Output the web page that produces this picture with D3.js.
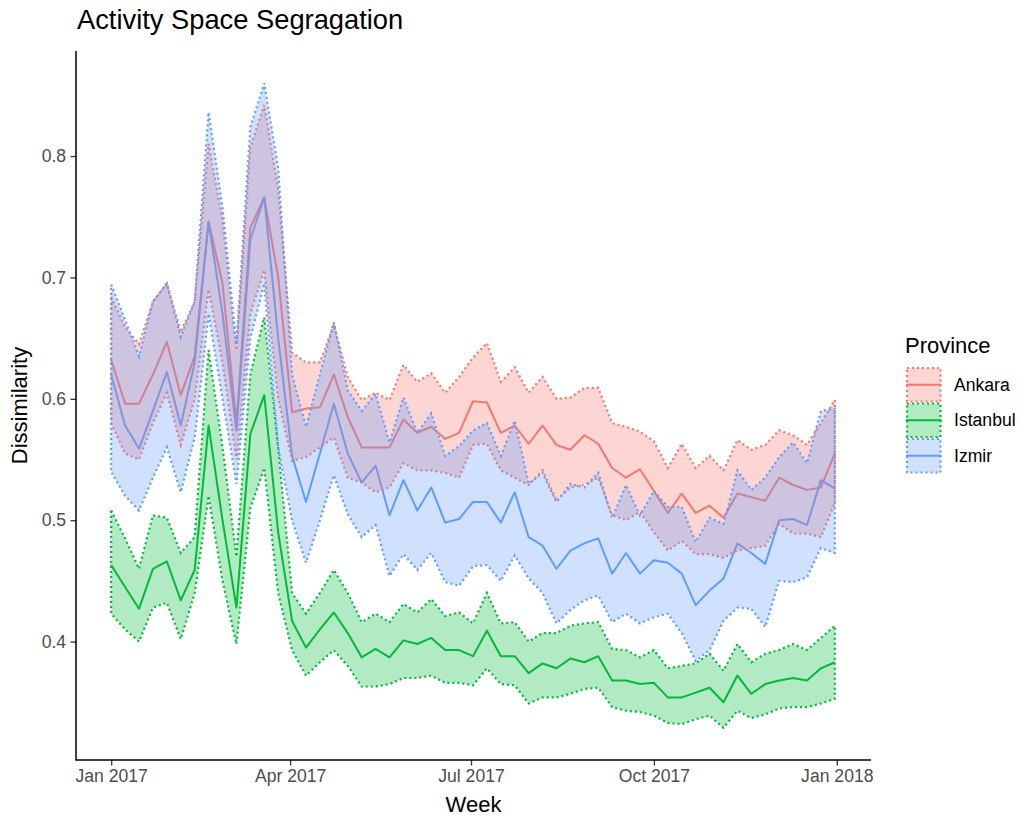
<!DOCTYPE html>
<html>
<head>
<meta charset="utf-8">
<script src="https://cdn.jsdelivr.net/npm/d3@7"></script>
<style>
  body { margin: 0; background: #fff; }
  svg { display: block; }
  text { font-family: "Liberation Sans", Arial, sans-serif; }
</style>
</head>
<body>
<svg id="chart" width="1020" height="820"></svg>
<script>
// categories / labels
const provinces = ["Ankara", "Istanbul", "Izmir"];
const colors = ["#F8766D", "#00BA38", "#619CFF"];
const yTicks = [0.4, 0.5, 0.6, 0.7, 0.8];
const xTickDates = [new Date(2017, 0, 1), new Date(2017, 3, 1), new Date(2017, 6, 1), new Date(2017, 9, 1), new Date(2018, 0, 1)];
const xTickLabels = ["Jan 2017", "Apr 2017", "Jul 2017", "Oct 2017", "Jan 2018"];

// weekly dates, Sundays of 2017
const weeks = d3.timeWeek.range(new Date(2017, 0, 1), new Date(2018, 0, 2));

// series values
const ankaraMean = [0.632,0.596,0.596,0.62,0.647,0.603,0.635,0.746,0.695,0.58,0.741,0.766,0.70,0.589,0.592,0.593,0.62,0.585,0.56,0.56,0.56,0.583,0.572,0.577,0.567,0.572,0.598,0.597,0.572,0.578,0.563,0.578,0.562,0.558,0.57,0.563,0.543,0.535,0.542,0.524,0.506,0.522,0.506,0.512,0.502,0.522,0.519,0.516,0.535,0.529,0.525,0.527,0.555];
const ankaraHigh = [0.684,0.659,0.645,0.68,0.695,0.655,0.68,0.81,0.747,0.64,0.807,0.842,0.772,0.638,0.63,0.63,0.661,0.618,0.599,0.605,0.599,0.628,0.614,0.621,0.605,0.618,0.634,0.646,0.614,0.626,0.605,0.618,0.6,0.601,0.609,0.609,0.58,0.577,0.573,0.565,0.543,0.563,0.543,0.553,0.541,0.566,0.558,0.562,0.574,0.57,0.562,0.58,0.599];
const ankaraLow = [0.58,0.555,0.55,0.58,0.605,0.562,0.6,0.69,0.63,0.55,0.67,0.706,0.6,0.549,0.552,0.56,0.568,0.535,0.531,0.523,0.527,0.547,0.541,0.541,0.539,0.535,0.562,0.563,0.541,0.535,0.529,0.541,0.516,0.527,0.529,0.535,0.504,0.5,0.507,0.49,0.475,0.483,0.472,0.472,0.469,0.475,0.477,0.479,0.497,0.489,0.489,0.486,0.514];

const istanbulMean = [0.463,0.445,0.427,0.46,0.466,0.434,0.459,0.578,0.5,0.428,0.571,0.603,0.49,0.417,0.395,0.41,0.424,0.407,0.387,0.394,0.387,0.401,0.398,0.403,0.393,0.393,0.388,0.409,0.388,0.388,0.374,0.382,0.378,0.386,0.383,0.388,0.368,0.368,0.365,0.366,0.354,0.354,0.358,0.362,0.35,0.372,0.357,0.365,0.368,0.37,0.368,0.378,0.383];
const istanbulHigh = [0.508,0.485,0.46,0.504,0.502,0.473,0.486,0.64,0.56,0.47,0.62,0.667,0.56,0.44,0.423,0.44,0.459,0.44,0.416,0.423,0.416,0.431,0.424,0.435,0.421,0.424,0.415,0.44,0.415,0.416,0.4,0.407,0.407,0.413,0.415,0.416,0.394,0.393,0.387,0.393,0.378,0.38,0.382,0.39,0.376,0.398,0.383,0.39,0.393,0.398,0.393,0.403,0.413];
const istanbulLow = [0.423,0.41,0.4,0.428,0.432,0.402,0.44,0.52,0.45,0.398,0.51,0.543,0.44,0.393,0.372,0.383,0.393,0.38,0.363,0.363,0.365,0.37,0.37,0.372,0.366,0.366,0.364,0.378,0.365,0.364,0.349,0.354,0.354,0.357,0.361,0.362,0.346,0.343,0.342,0.339,0.333,0.332,0.336,0.339,0.329,0.343,0.337,0.34,0.345,0.346,0.346,0.349,0.353];

const izmirMean = [0.62,0.578,0.559,0.59,0.622,0.578,0.63,0.746,0.67,0.574,0.731,0.766,0.65,0.553,0.515,0.555,0.596,0.555,0.531,0.545,0.504,0.533,0.508,0.527,0.498,0.501,0.515,0.515,0.498,0.523,0.486,0.479,0.46,0.475,0.481,0.485,0.456,0.473,0.456,0.467,0.465,0.456,0.43,0.442,0.452,0.481,0.473,0.464,0.5,0.501,0.496,0.533,0.526];
const izmirHigh = [0.694,0.665,0.635,0.68,0.695,0.651,0.68,0.836,0.758,0.645,0.824,0.86,0.79,0.62,0.577,0.62,0.663,0.607,0.59,0.604,0.564,0.601,0.572,0.588,0.553,0.561,0.574,0.58,0.553,0.582,0.53,0.539,0.515,0.53,0.527,0.539,0.502,0.529,0.504,0.524,0.511,0.511,0.482,0.502,0.497,0.541,0.525,0.535,0.552,0.564,0.547,0.59,0.592];
const izmirLow = [0.54,0.52,0.508,0.535,0.56,0.523,0.568,0.67,0.6,0.53,0.65,0.695,0.56,0.5,0.465,0.5,0.537,0.505,0.486,0.496,0.454,0.472,0.459,0.473,0.449,0.446,0.462,0.463,0.45,0.471,0.452,0.44,0.415,0.426,0.434,0.438,0.416,0.423,0.415,0.42,0.423,0.407,0.384,0.393,0.417,0.428,0.427,0.412,0.45,0.449,0.453,0.477,0.473];

const means = [ankaraMean, istanbulMean, izmirMean];
const lows = [ankaraLow, istanbulLow, izmirLow];
const highs = [ankaraHigh, istanbulHigh, izmirHigh];

const series = provinces.map((name, i) => ({
  name,
  color: colors[i],
  values: weeks.map((d, j) => ({ date: d, mean: means[i][j], lo: lows[i][j], hi: highs[i][j] }))
}));

// panel
const panel = { left: 76, right: 871, top: 51, bottom: 760 };

// ggplot style 5% expansion
const xExt = d3.extent(weeks);
const xPad = (xExt[1] - xExt[0]) * 0.05;
const x = d3.scaleTime()
  .domain([new Date(+xExt[0] - xPad), new Date(+xExt[1] + xPad)])
  .range([panel.left - 1, panel.right]);

const yExt = d3.extent([].concat(...lows, ...highs));
const yPad = (yExt[1] - yExt[0]) * 0.05;
const y = d3.scaleLinear()
  .domain([yExt[0] - yPad, yExt[1] + yPad])
  .range([panel.bottom, panel.top]);

const svg = d3.select("#chart");
svg.append("rect").attr("width", 1020).attr("height", 820).attr("fill", "#fff");

const line = d3.line().x(d => x(d.date)).y(d => y(d.mean));
const area = d3.area().x(d => x(d.date)).y0(d => y(d.lo)).y1(d => y(d.hi));

// lines first, ribbons on top (layer order of the original)
svg.append("g")
  .selectAll("path")
  .data(series)
  .join("path")
  .attr("d", d => line(d.values))
  .attr("fill", "none")
  .attr("stroke", d => d.color)
  .attr("stroke-width", 2)
  .attr("stroke-linejoin", "round");

svg.append("g")
  .selectAll("path")
  .data(series)
  .join("path")
  .attr("d", d => area(d.values))
  .attr("fill", d => d.color)
  .attr("fill-opacity", 0.3)
  .attr("stroke", d => d.color)
  .attr("stroke-width", 2.2)
  .attr("stroke-dasharray", "2,3");

// axes
const tickLen = 5.5, tickPad = 4.4;

const xAxis = svg.append("g")
  .attr("transform", `translate(0,${panel.bottom})`)
  .call(d3.axisBottom(x).tickValues(xTickDates).tickFormat((d, i) => xTickLabels[i]).tickSize(tickLen).tickPadding(tickPad));

const yAxis = svg.append("g")
  .attr("transform", `translate(${panel.left},0)`)
  .call(d3.axisLeft(y).tickValues(yTicks).tickFormat(d3.format(".1f")).tickSize(tickLen).tickPadding(tickPad));

[xAxis, yAxis].forEach(g => {
  g.select(".domain").remove();
  g.selectAll(".tick line").attr("stroke", "#333").attr("stroke-width", 1.3);
  g.selectAll(".tick text").attr("fill", "#4d4d4d").style("font-size", "17.6px")
    .style("font-family", '"Liberation Sans", Arial, sans-serif');
});

svg.append("path")
  .attr("d", `M${panel.left},${panel.top}V${panel.bottom}H${panel.right}`)
  .attr("fill", "none")
  .attr("stroke", "#000")
  .attr("stroke-width", 1.5);

// titles
svg.append("text")
  .attr("x", 77).attr("y", 29)
  .style("font-size", "27.3px")
  .attr("fill", "#000")
  .text("Activity Space Segragation");

svg.append("text")
  .attr("x", (panel.left + panel.right) / 2).attr("y", 812)
  .attr("text-anchor", "middle")
  .style("font-size", "22px")
  .text("Week");

svg.append("text")
  .attr("transform", `translate(27,${(panel.top + panel.bottom) / 2}) rotate(-90)`)
  .attr("text-anchor", "middle")
  .style("font-size", "22px")
  .text("Dissimilarity");

// legend
const legend = svg.append("g").attr("transform", "translate(906,0)");
legend.append("text")
  .attr("x", -1).attr("y", 353)
  .style("font-size", "22px")
  .text("Province");

const keySize = 35.5;
const keys = legend.selectAll("g.key")
  .data(series)
  .join("g")
  .attr("class", "key")
  .attr("transform", (d, i) => `translate(0,${367 + i * keySize})`);

keys.append("line")
  .attr("x1", 0).attr("x2", keySize)
  .attr("y1", keySize / 2).attr("y2", keySize / 2)
  .attr("stroke", d => d.color)
  .attr("stroke-width", 2);

keys.append("rect")
  .attr("x", 1).attr("y", 1)
  .attr("width", keySize - 2).attr("height", keySize - 2)
  .attr("fill", d => d.color)
  .attr("fill-opacity", 0.3)
  .attr("stroke", d => d.color)
  .attr("stroke-width", 2.2)
  .attr("stroke-dasharray", "2,3");

keys.append("text")
  .attr("x", keySize + 12.5).attr("y", keySize / 2)
  .attr("dy", "0.35em")
  .style("font-size", "17.6px")
  .text(d => d.name);
</script>
</body>
</html>
